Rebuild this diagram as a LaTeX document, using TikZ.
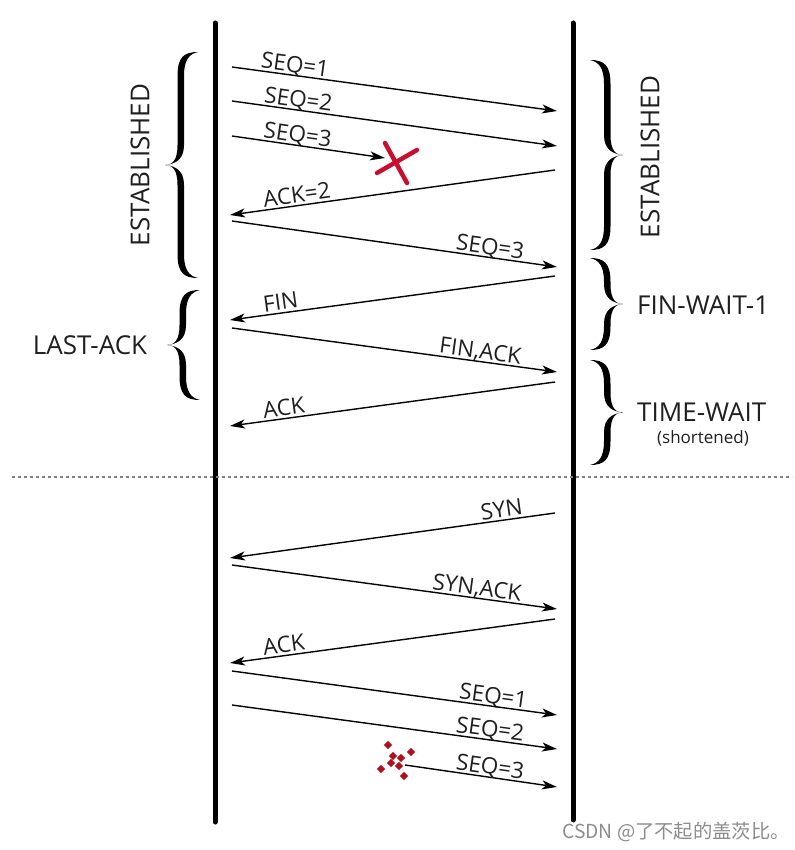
\documentclass[tikz,border=0pt]{standalone}
\usepackage{fontspec}
\setmainfont{Open Sans}
\newfontfamily\cjkfont{Noto Sans CJK SC}
\usetikzlibrary{arrows.meta}
\definecolor{xred}{HTML}{C8102E}
\definecolor{dred}{HTML}{B0101E}
\newcommand\tcpbrace[4]{%
\pgfmathsetmacro\bL{#3-#2}%
\pgfmathsetmacro\bM{(#3-#2)/2}%
\begin{scope}[shift={(#1,#2)}, xscale=#4]
\fill[black] (0,0) .. controls (-14,0) and (-20.5,5) .. (-20.5,24)
 -- (-20.5,\bM-20) .. controls (-20.5,\bM-4) and (-26,\bM) .. (-33,\bM)
 .. controls (-26,\bM) and (-20.5,\bM+4) .. (-20.5,\bM+20)
 -- (-20.5,\bL-24) .. controls (-20.5,\bL-5) and (-14,\bL) .. (0,\bL)
 .. controls (-9,\bL-2) and (-14,\bL-8) .. (-14,\bL-24)
 -- (-14,\bM+20) .. controls (-14,\bM+6) and (-22,\bM+1) .. (-33,\bM)
 .. controls (-22,\bM-1) and (-14,\bM-6) .. (-14,\bM-20)
 -- (-14,24) .. controls (-14,8) and (-9,2) .. (0,0) -- cycle;
\end{scope}}
\begin{document}
\begin{tikzpicture}[x=1pt,y=-1pt,
  timeline/.style={line width=5pt, line cap=round, black},
  msg/.style={-{Stealth[length=15pt,width=9pt,inset=4pt]}, line width=1.4pt, black},
  lbl/.style={sloped, anchor=base, inner sep=0pt, yshift=3pt, text=black!88, font=\fontsize{22.5}{26}\selectfont},
  state/.style={inner sep=0pt, text=black!88, font=\fontsize{26}{30}\selectfont},
  xmark/.style={xred, line width=4.5pt, line cap=round},
  sep/.style={gray, line width=1.2pt, dash pattern=on 3pt off 3pt},
  wm/.style={inner sep=0pt, text=black!45, font=\cjkfont\fontsize{19.3}{22}\selectfont}]
\useasboundingbox (0,0) rectangle (794,850);
% timelines
\coordinate (Lt) at (215,23); \coordinate (Lb) at (215,822);
\coordinate (Rt) at (573,23); \coordinate (Rb) at (573,820);
\draw[timeline] (Lt) -- (Lb);
\draw[timeline] (Rt) -- (Rb);
% separator
\coordinate (s1) at (12,477); \coordinate (s2) at (792,477);
\draw[sep] (s1) -- (s2);
% message endpoints
\coordinate (a1s) at (232,67);  \coordinate (a1e) at (557,111);
\coordinate (a2s) at (232,101); \coordinate (a2e) at (557,146);
\coordinate (a3s) at (232,136); \coordinate (a3e) at (385,158);
\coordinate (a4s) at (555,170); \coordinate (a4e) at (230,215);
\coordinate (a5s) at (232,221); \coordinate (a5e) at (557,267);
\coordinate (a6s) at (555,276); \coordinate (a6e) at (230,320);
\coordinate (a7s) at (232,328); \coordinate (a7e) at (557,372);
\coordinate (a8s) at (555,382); \coordinate (a8e) at (230,426);
\coordinate (b1s) at (555,513); \coordinate (b1e) at (230,558);
\coordinate (b2s) at (232,565); \coordinate (b2e) at (557,609);
\coordinate (b3s) at (555,619); \coordinate (b3e) at (230,663);
\coordinate (b4s) at (232,671); \coordinate (b4e) at (557,715);
\coordinate (b5s) at (232,705); \coordinate (b5e) at (557,749);
\coordinate (b6s) at (405,765); \coordinate (b6e) at (557,787);
% messages
\draw[msg] (a1s) -- node[lbl,pos=0.19] (l1) {SEQ=1} (a1e);
\draw[msg] (a2s) -- node[lbl,pos=0.2] (l2) {SEQ=2} (a2e);
\draw[msg] (a3s) -- node[lbl,pos=0.42] (l3) {SEQ=3} (a3e);
\draw[msg] (a4s) -- node[lbl,pos=0.79] (l4) {ACK=2} (a4e);
\draw[msg] (a5s) -- node[lbl,pos=0.79] (l5) {SEQ=3} (a5e);
\draw[msg] (a6s) -- node[lbl,pos=0.84] (l6) {FIN} (a6e);
\draw[msg] (a7s) -- node[lbl,pos=0.76] (l7) {FIN,ACK} (a7e);
\draw[msg] (a8s) -- node[lbl,pos=0.83] (l8) {ACK} (a8e);
\draw[msg] (b1s) -- node[lbl,pos=0.16] (m1) {SYN} (b1e);
\draw[msg] (b2s) -- node[lbl,pos=0.75] (m2) {SYN,ACK} (b2e);
\draw[msg] (b3s) -- node[lbl,pos=0.83] (m3) {ACK} (b3e);
\draw[msg] (b4s) -- node[lbl,pos=0.8] (m4) {SEQ=1} (b4e);
\draw[msg] (b5s) -- node[lbl,pos=0.79] (m5) {SEQ=2} (b5e);
\draw[msg] (b6s) -- node[lbl,pos=0.55] (m6) {SEQ=3} (b6e);
% lost packet cross
\coordinate (x1) at (377,173); \coordinate (x2) at (417,150);
\coordinate (x3) at (385,143); \coordinate (x4) at (407,183);
\draw[xmark] (x1) -- (x2);
\draw[xmark] (x3) -- (x4);
% scattered fragments
\foreach \px/\py in {388/745, 411/752, 393/756, 401/758, 391/763, 399/766, 381/769, 404/776}
  \fill[dred] (\px,\py-4.2) -- (\px+4.2,\py) -- (\px,\py+4.2) -- (\px-4.2,\py) -- cycle;
% braces
\tcpbrace{198}{52}{278}{1}
\tcpbrace{200}{290}{400}{1}
\tcpbrace{590}{60}{250}{-1}
\tcpbrace{590}{258}{350}{-1}
\tcpbrace{590}{360}{465}{-1}
% state labels
\node[state, rotate=90] (estL) at (140,165) {ESTABLISHED};
\node[state] (lastack) at (90,345) {LAST-ACK};
\node[state, rotate=90] (estR) at (650,157) {ESTABLISHED};
\node[state, anchor=west] (finwait) at (637,305) {FIN-WAIT-1};
\node[state, anchor=west] (timewait) at (637,412) {TIME-WAIT};
\node[inner sep=0pt, text=black!88, font=\fontsize{17}{20}\selectfont] (short) at (703,438) {(shortened)};
% watermark
\node[wm, anchor=west] (wmark) at (562,832) {CSDN @了不起的盖茨比。};
\end{tikzpicture}
\end{document}
